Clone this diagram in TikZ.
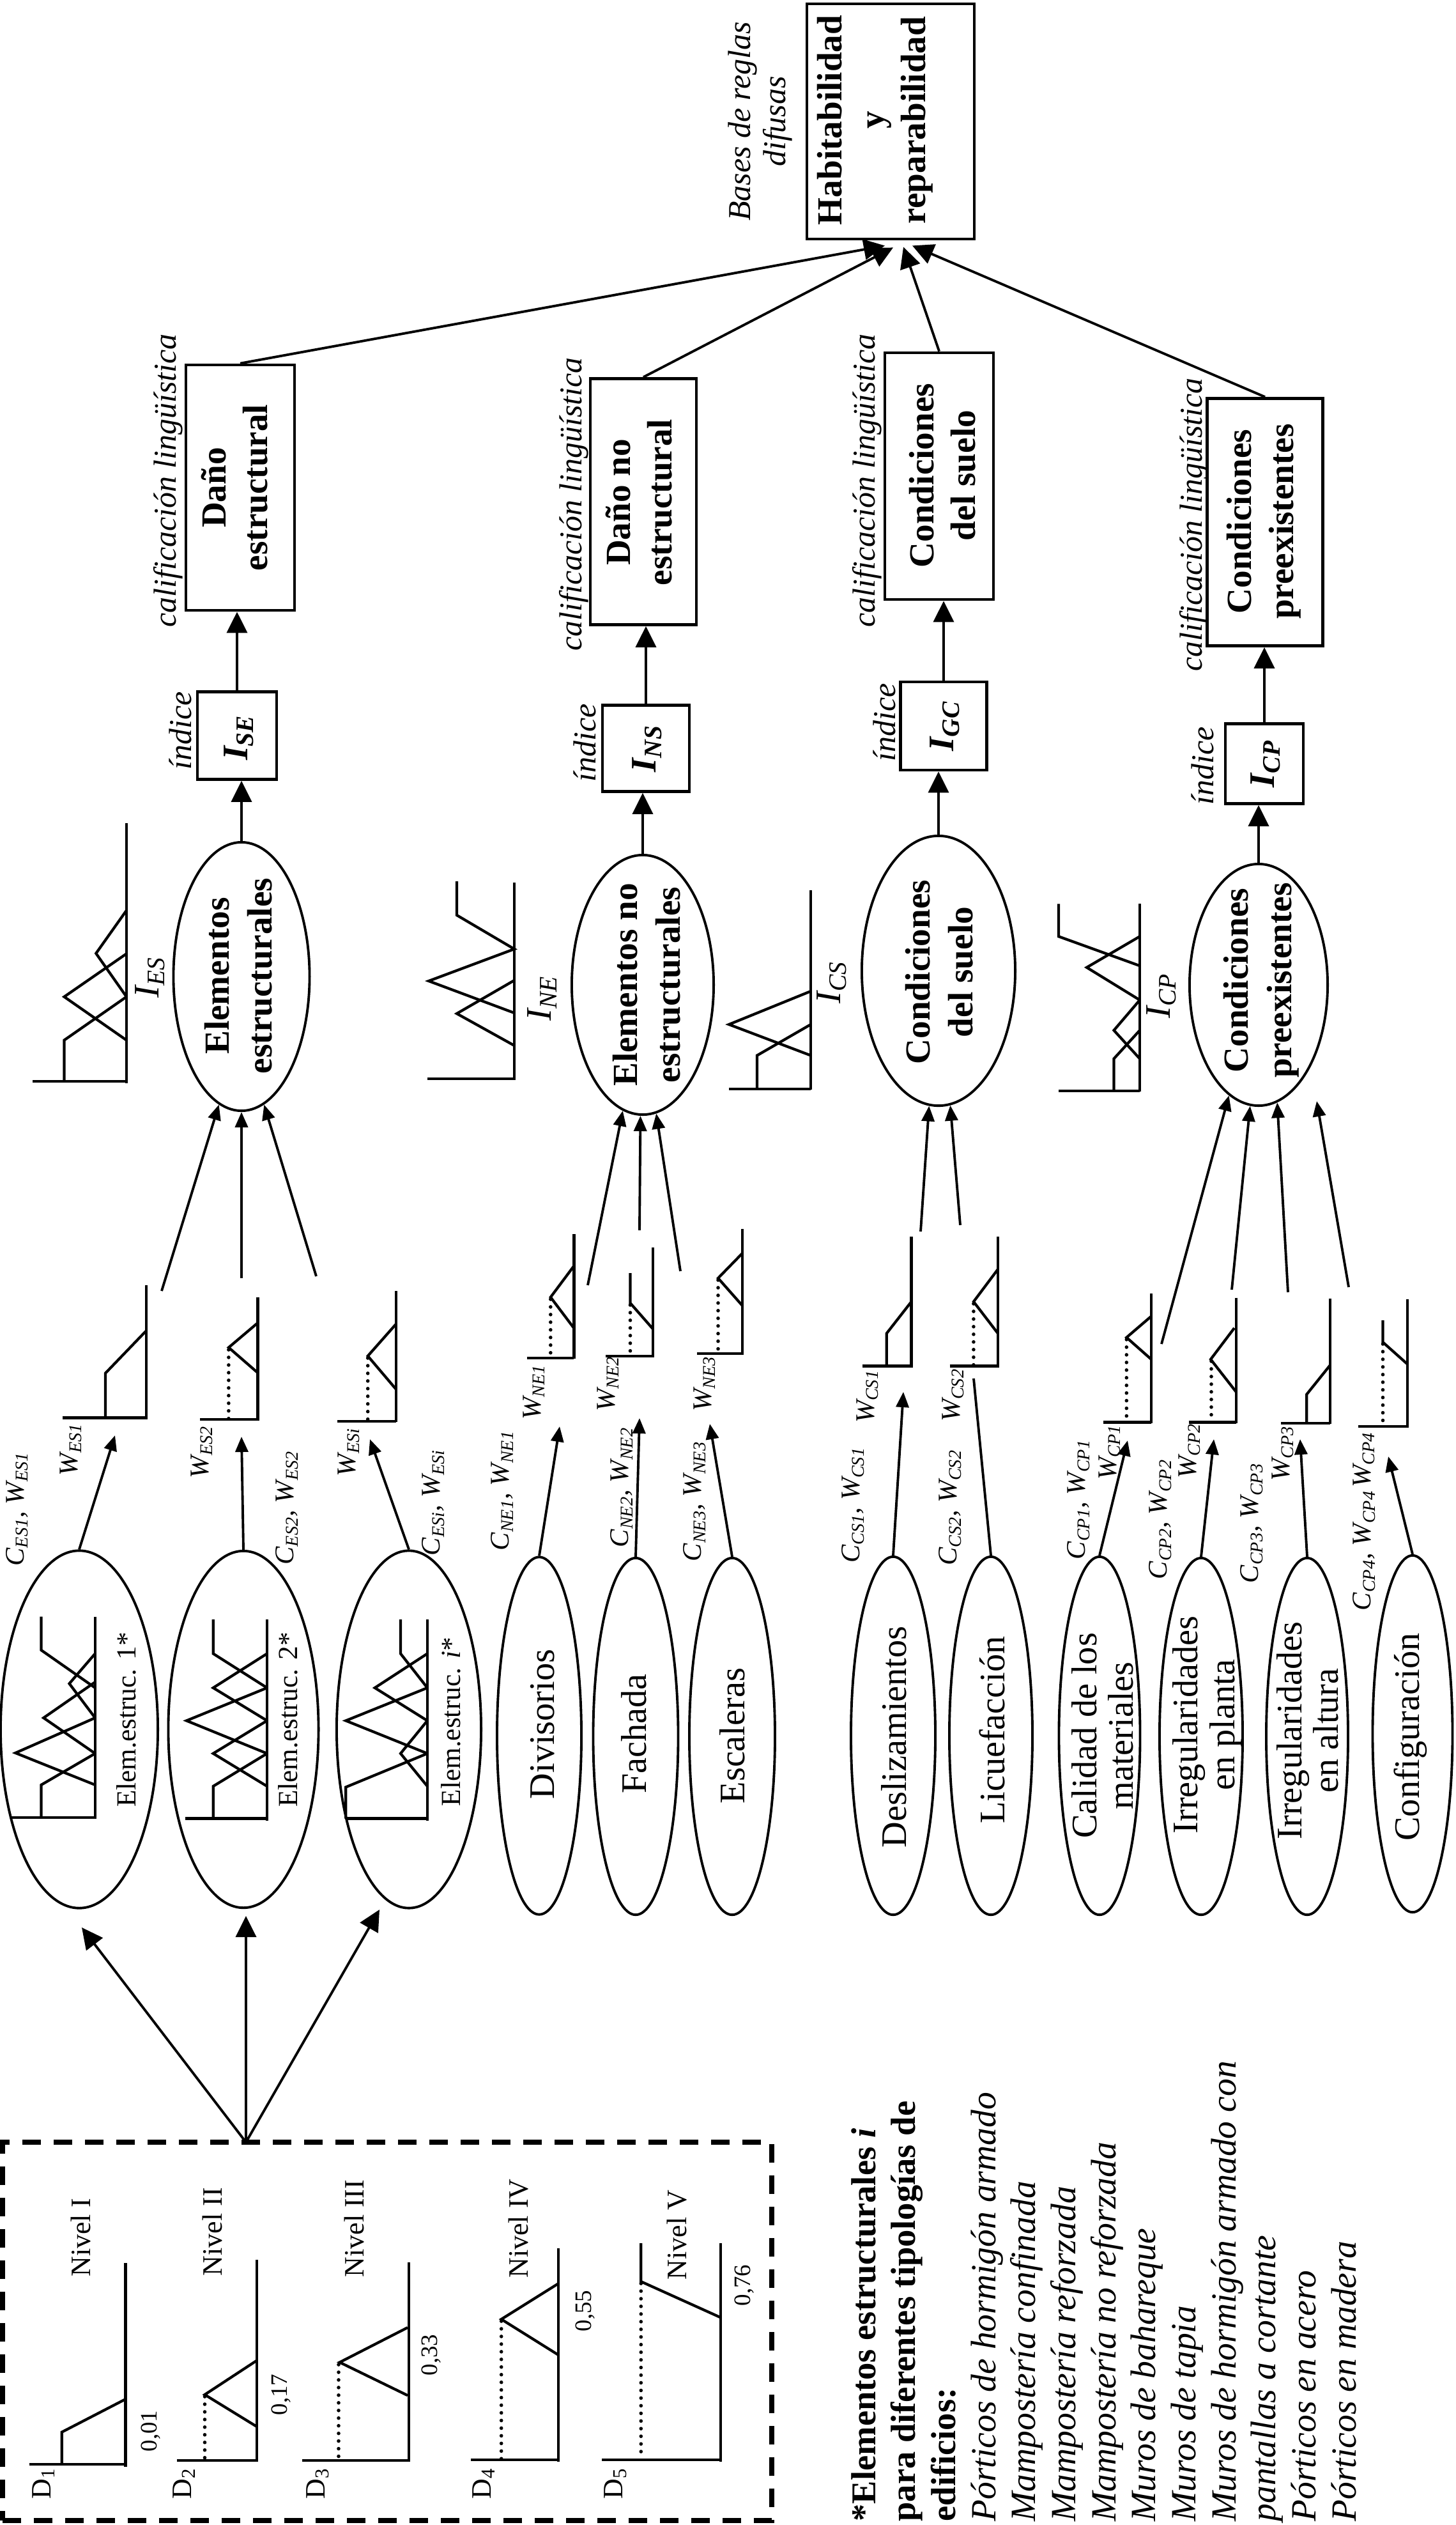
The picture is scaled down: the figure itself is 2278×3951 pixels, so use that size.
\documentclass[tikz,border=0pt]{standalone}
\usepackage{fontspec}
\setmainfont{Liberation Serif}
\usetikzlibrary{arrows.meta,shapes.geometric,calc}
\newcommand\myBold{\fontsize{15.7}{18.6}\selectfont\bfseries}
\newcommand\myEll{\fontsize{15.7}{19.2}\selectfont\bfseries}
\newcommand\myItal{\fontsize{14.2}{15.5}\selectfont\itshape}
\newcommand\myIdx{\fontsize{16}{18}\selectfont\bfseries\itshape}
\newcommand\myPl{\fontsize{16}{18}\selectfont\itshape}
\newcommand\myReg{\fontsize{16}{16.3}\selectfont}
\newcommand\mySm{\fontsize{12.3}{14}\selectfont}
\newcommand\myLab{\fontsize{12}{14}\selectfont\itshape}
\newcommand\myNum{\fontsize{10.5}{12}\selectfont}
\newcommand\myNiv{\fontsize{12.5}{14}\selectfont}
\newcommand\myNoteB{\fontsize{15.5}{18}\selectfont\bfseries}
\newcommand\myNoteI{\fontsize{15.8}{18}\selectfont\itshape}
\newcommand\CW[1]{C\textsubscript{#1}, W\textsubscript{#1}}
\newcommand\Ws[1]{W\textsubscript{#1}}
\tikzset{
  bx/.style={draw, rectangle, line width=1.3pt, inner sep=0pt},
  ell/.style={draw, ellipse, line width=1.1pt, inner sep=0pt},
  rt/.style={rotate=90, inner sep=0pt, align=center},
  lab/.style={rt, font=\myLab},
  bigarr/.style={line width=1.1pt, -{Triangle[length=0.33cm, width=0.32cm]}},
  smarr/.style={line width=1.1pt, -{Triangle[length=0.24cm, width=0.2cm]}},
  ln/.style={line width=1.1pt},
  pl/.style={line width=1.2pt},
  dotl/.style={line width=1.6pt, dash pattern=on 0pt off 3.4pt, line cap=round},
  dbox/.style={draw, rectangle, line width=2.2pt, dash pattern=on 0.29cm off 0.2cm, inner sep=0pt},
}
\begin{document}
\begin{tikzpicture}[x=0.01cm, y=-0.01cm]
\useasboundingbox (0,0) rectangle (2278,3951);

% ---------- top box ----------
\node[bx, minimum width=2.62cm, minimum height=3.68cm] (top) at (1394,190) {};
\node[rt, font=\myBold] (topt) at (1370,188) {Habitabilidad\\y\\reparabilidad};
\node[rt, font=\myItal] (bases) at (1190,190) {Bases de reglas\\difusas};

% ---------- category boxes ----------
\node[bx, minimum width=1.70cm, minimum height=3.84cm] (b1) at (376,763) {};
\node[bx, minimum width=1.66cm, minimum height=3.85cm] (b2) at (1007,785) {};
\node[bx, minimum width=1.70cm, minimum height=3.86cm] (b3) at (1470,745) {};
\node[bx, minimum width=1.81cm, minimum height=3.87cm] (b4) at (1980,817) {};
\node[rt, font=\myBold] (b1t) at (367,763) {Daño\\estructural};
\node[rt, font=\myBold] (b2t) at (1000,786) {Daño no\\estructural};
\node[rt, font=\myBold] (b3t) at (1475,744) {Condiciones\\del suelo};
\node[rt, font=\myBold] (b4t) at (1978,816) {Condiciones\\preexistentes};

\node[rt, font=\myItal] (c1) at (263,752) {calificación lingüística};
\node[rt, font=\myItal] (c2) at (898,789) {calificación lingüística};
\node[rt, font=\myItal] (c3) at (1357,752) {calificación lingüística};
\node[rt, font=\myItal] (c4) at (1869,821) {calificación lingüística};

\draw[bigarr] (b1.north) -- ($(top.south)+(-9,8)$);
\draw[bigarr] (b2.north) -- ($(top.south)+(4,11)$);
\draw[bigarr] (b3.north) -- ($(top.south)+(20,10)$);
\draw[bigarr] (b4.north) -- ($(top.south)+(34,8)$);

% ---------- index boxes ----------
\node[bx, minimum width=1.24cm, minimum height=1.37cm] (i1) at (371,1151) {};
\node[bx, minimum width=1.36cm, minimum height=1.35cm] (i2) at (1011,1171) {};
\node[bx, minimum width=1.35cm, minimum height=1.38cm] (i3) at (1477,1136) {};
\node[bx, minimum width=1.22cm, minimum height=1.25cm] (i4) at (1979,1195) {};
\node[rt, font=\myIdx] (i1t) at (374,1154) {I\textsubscript{SE}};
\node[rt, font=\myIdx] (i2t) at (1013,1171) {I\textsubscript{NS}};
\node[rt, font=\myIdx] (i3t) at (1479,1136) {I\textsubscript{GC}};
\node[rt, font=\myIdx] (i4t) at (1981,1195) {I\textsubscript{CP}};
\node[rt, font=\myItal] (x1) at (282,1143) {índice};
\node[rt, font=\myItal] (x2) at (915,1162) {índice};
\node[rt, font=\myItal] (x3) at (1384,1130) {índice};
\node[rt, font=\myItal] (x4) at (1882,1198) {índice};

\draw[bigarr] (i1.north) -- (i1.north |- b1.south);
\draw[bigarr] (i2.north) -- (i2.north |- b2.south);
\draw[bigarr] (i3.north) -- (i3.north |- b3.south);
\draw[bigarr] (i4.north) -- (i4.north |- b4.south);

% ---------- middle ellipses ----------
\node[ell, minimum width=2.13cm, minimum height=4.20cm] (m1) at (378,1528) {};
\node[ell, minimum width=2.22cm, minimum height=4.06cm] (m2) at (1006,1541) {};
\node[ell, minimum width=2.40cm, minimum height=4.22cm] (m3) at (1469,1519) {};
\node[ell, minimum width=2.16cm, minimum height=3.78cm] (m4) at (1970,1541) {};
\node[rt, font=\myEll] (m1t) at (373,1527) {Elementos\\estructurales};
\node[rt, font=\myEll] (m2t) at (1012,1541) {Elementos no\\estructurales};
\node[rt, font=\myEll] (m3t) at (1470,1521) {Condiciones\\del suelo};
\node[rt, font=\myEll] (m4t) at (1974,1534) {Condiciones\\preexistentes};

\draw[bigarr] (m1.north) -- (m1.north |- i1.south);
\draw[bigarr] (m2.north) -- (m2.north |- i2.south);
\draw[bigarr] (m3.north) -- (m3.north |- i3.south);
\draw[bigarr] (m4.north) -- (m4.north |- i4.south);

% plot labels
\node[rt, font=\myPl] (p1) at (235,1529) {I\textsubscript{ES}};
\node[rt, font=\myPl] (p2) at (849,1562) {I\textsubscript{NE}};
\node[rt, font=\myPl] (p3) at (1302,1537) {I\textsubscript{CS}};
\node[rt, font=\myPl] (p4) at (1818,1558) {I\textsubscript{CP}};

% plot I_ES
\draw[pl] (198,1288) -- (198,1695);
\draw[pl] (51,1692) -- (198,1692);
\draw[pl] (100.5,1692) -- (100.5,1627.6) -- (198,1559.7);
\draw[pl] (198,1627.6) -- (100.5,1559.7) -- (198,1492.3);
\draw[pl] (198,1559.7) -- (150.3,1491.8) -- (198,1424.5);
% plot I_NE
\draw[pl] (805,1381) -- (805,1690);
\draw[pl] (669,1688) -- (805,1688);
\draw[pl] (715,1379) -- (715,1432) -- (805,1485) -- (671,1535) -- (805,1585);
\draw[pl] (805,1534) -- (715,1586) -- (805,1636);
% plot I_CS
\draw[pl] (1269,1393) -- (1269,1705);
\draw[pl] (1141,1704) -- (1269,1704);
\draw[pl] (1185,1704) -- (1185,1651.5) -- (1269,1603);
\draw[pl] (1269,1651.5) -- (1141,1603) -- (1269,1551);
% plot I_CP
\draw[pl] (1784,1414) -- (1784,1708);
\draw[pl] (1657,1706.6) -- (1784,1706.6);
\draw[pl] (1743.5,1706.6) -- (1743.5,1656.6) -- (1784,1612.2);
\draw[pl] (1784,1656.6) -- (1743.5,1612.2) -- (1784,1564.8);
\draw[pl] (1784,1564.8) -- (1701,1513.8) -- (1784,1465.3);
\draw[pl] (1784,1511.2) -- (1657,1465.3) -- (1657,1414.3);

% arrows into middle ellipses
\coordinate (ses1) at (253,2020);
\coordinate (ses2) at (378,2000);
\coordinate (ses3) at (495,1997);
\coordinate (sne1) at (920,2011);
\coordinate (sne2) at (1001,1925);
\coordinate (sne3) at (1065,1989);
\coordinate (scs1) at (1441,1927);
\coordinate (scs2) at (1503,1917);
\coordinate (scp1) at (1818,2103);
\coordinate (scp2) at (1928,2018);
\coordinate (scp3) at (2016,2022);
\coordinate (scp4) at (2111,2014);
\coordinate (tcp4) at (2061,1723);
\draw[smarr] (ses1) -- (m1.-100.3);
\draw[smarr] (ses2) -- (m1.south);
\draw[smarr] (ses3) -- (m1.-80.8);
\draw[smarr] (sne1) -- (m2.-99.6);
\draw[smarr] (sne2) -- (m2.-91.4);
\draw[smarr] (sne3) -- (m2.-84.1);
\draw[smarr] (scs1) -- (m3.-94.6);
\draw[smarr] (scs2) -- (m3.-85.7);
\draw[smarr] (scp1) -- (m4.-105.6);
\draw[smarr] (scp2) -- (m4.-94.5);
\draw[smarr] (scp3) -- (m4.-81.6);
\draw[smarr] (scp4) -- (tcp4);

% ---------- W plots ----------
% ES1
\draw[pl] (228.8,2011) -- (228.8,2221);
\draw[pl] (97.5,2218.4) -- (228.8,2218.4);
\draw[pl] (165,2218.4) -- (165,2148.7) -- (228.8,2082.4);
% ES2
\draw[pl] (403.4,2030) -- (403.4,2223);
\draw[pl] (313,2221) -- (403.4,2221);
\draw[pl] (403.4,2070) -- (357.9,2108.5) -- (403.4,2148);
\draw[dotl] (357.9,2112) -- (357.9,2221);
% ESi
\draw[pl] (619.7,2020) -- (619.7,2225.4);
\draw[pl] (528,2224) -- (619.7,2224);
\draw[pl] (619.7,2072) -- (575.7,2121.8) -- (619.7,2173.6);
\draw[dotl] (575.7,2125) -- (575.7,2224);
% NE1
\draw[pl] (898.4,1931) -- (898.4,2126);
\draw[pl] (825,2125) -- (898.4,2125);
\draw[pl] (898.4,1980.8) -- (861.8,2029.8) -- (898.4,2078.3);
\draw[dotl] (861.8,2033) -- (861.8,2125);
% NE2
\draw[pl] (1021.6,1952) -- (1021.6,2124);
\draw[pl] (948.3,2122) -- (1021.6,2122);
\draw[pl] (986.5,1992) -- (986.5,2039) -- (1021.6,2079);
\draw[dotl] (986.5,2042) -- (986.5,2122);
% NE3
\draw[pl] (1162,1923) -- (1162,2120);
\draw[pl] (1091,2118) -- (1162,2118);
\draw[pl] (1162,1961) -- (1124,2000) -- (1162,2043);
\draw[dotl] (1124,2003) -- (1124,2118);
% CS1
\draw[pl] (1426.5,1935) -- (1426.5,2139.6);
\draw[pl] (1349.6,2137.5) -- (1426.5,2137.5);
\draw[pl] (1387.7,2137.5) -- (1387.7,2086.5) -- (1426.5,2036.8);
% CS2
\draw[pl] (1562,1935) -- (1562,2139.6);
\draw[pl] (1486.5,2137.5) -- (1562,2137.5);
\draw[pl] (1562,1986) -- (1523.9,2036.8) -- (1562,2086.5);
\draw[dotl] (1523.9,2040) -- (1523.9,2137.5);
% CP1
\draw[pl] (1802,2024) -- (1802,2227);
\draw[pl] (1726.7,2225.4) -- (1802,2225.4);
\draw[pl] (1802,2059.6) -- (1763.3,2092.8) -- (1802,2127);
\draw[dotl] (1763.3,2096) -- (1763.3,2225);
% CP2
\draw[pl] (1935.3,2030.6) -- (1935.3,2227);
\draw[pl] (1860.6,2225.4) -- (1935.3,2225.4);
\draw[pl] (1932,2078) -- (1895,2127) -- (1935.3,2178.6);
\draw[dotl] (1896,2130) -- (1896,2225);
% CP3
\draw[pl] (2081.8,2031.8) -- (2081.8,2228.3);
\draw[pl] (2004.9,2226.7) -- (2081.8,2226.7);
\draw[pl] (2045.2,2226.7) -- (2045.2,2181.9) -- (2081.8,2136.3);
% CP4
\draw[pl] (2202.6,2032.7) -- (2202.6,2233.7);
\draw[pl] (2125.7,2231.6) -- (2202.6,2231.6);
\draw[pl] (2164.5,2065.8) -- (2164.5,2100.2) -- (2202.6,2134.2);
\draw[dotl] (2164.5,2103) -- (2164.5,2231);

% ---------- labels C, W ----------
\node[lab] (l1) at (27,2361) {\CW{ES1}};
\node[lab] (l2) at (111,2268) {\Ws{ES1}};
\node[lab] (l3) at (316,2272) {\Ws{ES2}};
\node[lab] (l4) at (449,2359) {\CW{ES2}};
\node[lab] (l5) at (546,2272) {\Ws{ESi}};
\node[lab] (l6) at (678,2351) {\CW{ESi}};
\node[lab] (l7) at (786,2332) {\CW{NE1}};
\node[lab] (l8) at (836,2178) {\Ws{NE1}};
\node[lab] (l9) at (973,2327) {\CW{NE2}};
\node[lab] (l10) at (952,2165) {\Ws{NE2}};
\node[lab] (l11) at (1087,2349) {\CW{NE3}};
\node[lab] (l12) at (1103,2165) {\Ws{NE3}};
\node[lab] (l13) at (1335,2355) {\CW{CS1}};
\node[lab] (l14) at (1358,2185) {\Ws{CS1}};
\node[lab] (l15) at (1487,2359) {\CW{CS2}};
\node[lab] (l16) at (1492,2183) {\Ws{CS2}};
\node[lab] (l17) at (1688,2346) {\CW{CP1}};
\node[lab] (l18) at (1737,2272) {\Ws{CP1}};
\node[lab] (l19) at (1816,2377) {\CW{CP2}};
\node[lab] (l20) at (1862,2270) {\Ws{CP2}};
\node[lab] (l21) at (1959,2383) {\CW{CP3}};
\node[lab] (l22) at (2008,2274) {\Ws{CP3}};
\node[lab] (l23) at (2135,2426) {\CW{CP4}};
\node[lab] (l24) at (2135,2284) {\Ws{CP4}};

% ---------- bottom ellipses ----------
\node[ell, minimum width=2.46cm, minimum height=5.59cm] (e1) at (124,2706) {};
\node[ell, minimum width=2.35cm, minimum height=5.58cm] (e2) at (381,2706) {};
\node[ell, minimum width=2.26cm, minimum height=5.59cm] (ei) at (640,2706) {};
\node[ell, minimum width=1.32cm, minimum height=5.59cm] (div) at (844,2716) {};
\node[ell, minimum width=1.33cm, minimum height=5.58cm] (fac) at (995,2717) {};
\node[ell, minimum width=1.34cm, minimum height=5.58cm] (esc) at (1146,2717) {};
\node[ell, minimum width=1.32cm, minimum height=5.60cm] (des) at (1398,2716) {};
\node[ell, minimum width=1.30cm, minimum height=5.60cm] (lic) at (1551,2716) {};
\node[ell, minimum width=1.27cm, minimum height=5.60cm] (cal) at (1721,2716) {};
\node[ell, minimum width=1.30cm, minimum height=5.58cm] (irp) at (1880,2717) {};
\node[ell, minimum width=1.28cm, minimum height=5.58cm] (ira) at (2046,2717) {};
\node[ell, minimum width=1.25cm, minimum height=5.58cm] (con) at (2211,2713) {};

\node[rt, font=\mySm] (e1t) at (198,2691) {Elem.estruc. 1*};
\node[rt, font=\mySm] (e2t) at (451,2691) {Elem.estruc. 2*};
\node[rt, font=\mySm] (eit) at (706,2694) {Elem.estruc. \textit{i}*};
\node[rt, font=\myReg] (divt) at (849,2698) {Divisorios};
\node[rt, font=\myReg] (fact) at (992,2713) {Fachada};
\node[rt, font=\myReg] (esct) at (1146,2716) {Escaleras};
\node[rt, font=\myReg] (dest) at (1399,2718) {Deslizamientos};
\node[rt, font=\myReg] (lict) at (1553,2707) {Licuefacción};
\node[rt, font=\myReg] (calt) at (1726,2716) {Calidad de los\\materiales};
\node[rt, font=\myReg] (irpt) at (1890,2699) {Irregularidades\\en planta};
\node[rt, font=\myReg] (irat) at (2047,2708) {Irregularidades\\en altura};
\node[rt, font=\myReg] (cont) at (2208,2718) {Configuración};

% inner plots
% E1
\draw[pl] (148.9,2529.5) -- (148.9,2846.4);
\draw[pl] (18.3,2844.2) -- (148.9,2844.2);
\draw[pl] (64.5,2844.2) -- (64.5,2792.9) -- (148.9,2743.75);
\draw[pl] (148.9,2792.9) -- (24.2,2742.9) -- (148.9,2688);
\draw[pl] (148.9,2743.75) -- (68.2,2688) -- (148.9,2632);
\draw[pl] (148.9,2688) -- (108.5,2634.4) -- (148.9,2587.5);
\draw[pl] (148.9,2641) -- (64.5,2582) -- (64.5,2529.5);
% E2
\draw[pl] (418,2534) -- (418,2848.7);
\draw[pl] (289.7,2845.5) -- (418,2845.5);
\draw[pl] (333.7,2845.5) -- (333.7,2795) -- (418,2743.75);
\draw[pl] (418,2795) -- (333.7,2743.75) -- (418,2692.4);
\draw[pl] (418,2743.75) -- (291.9,2692.4) -- (418,2641);
\draw[pl] (418,2692.4) -- (333.7,2641) -- (418,2587.5);
\draw[pl] (418,2641) -- (333.7,2587.5) -- (333.7,2534);
% Ei
\draw[pl] (668.9,2534) -- (668.9,2848.7);
\draw[pl] (541.3,2845.5) -- (668.9,2845.5);
\draw[pl] (541.3,2845.5) -- (541.3,2796.4) -- (668.9,2743.75);
\draw[pl] (668.9,2795) -- (627,2743.75) -- (668.9,2692.4);
\draw[pl] (668.9,2743.75) -- (541.3,2692.4) -- (668.9,2641);
\draw[pl] (668.9,2692.4) -- (586.7,2641) -- (668.9,2587.5);
\draw[pl] (668.9,2641) -- (627,2587.5) -- (627,2534);

% arrows from bottom ellipses
\coordinate (tes1) at (180,2246);
\coordinate (tes2) at (378,2248);
\coordinate (tesi) at (579,2252);
\coordinate (tne1) at (876,2232);
\coordinate (tne2) at (1001,2219);
\coordinate (tne3) at (1111,2228);
\coordinate (tcs1) at (1414,2178);
\coordinate (tcs2) at (1524,2157);
\coordinate (tcp1) at (1765,2254);
\coordinate (tcp2) at (1900,2252);
\coordinate (tcp3) at (2035,2252);
\coordinate (tcp4b) at (2173,2279);
\draw[smarr] (e1.north) -- (tes1);
\draw[smarr] (e2.north) -- (tes2);
\draw[smarr] (ei.north) -- (tesi);
\draw[smarr] (div.north) -- (tne1);
\draw[smarr] (fac.north) -- (tne2);
\draw[smarr] (esc.north) -- (tne3);
\draw[smarr] (des.north) -- (tcs1);
\draw[ln] (lic.north) -- (tcs2);
\draw[smarr] (cal.north) -- (tcp1);
\draw[smarr] (irp.north) -- (tcp2);
\draw[smarr] (ira.north) -- (tcp3);
\draw[smarr] (con.north) -- (tcp4b);

% ---------- dashed box ----------
\node[dbox, minimum width=12.04cm, minimum height=5.92cm] (dbx) at (606,3648) {};
\coordinate (src) at (385,3352);
\coordinate (d1) at (128,3016);
\coordinate (d2) at (385,2998);
\coordinate (d3) at (594,2988);
\draw[bigarr] (src) -- (d1);
\draw[bigarr] (src) -- (d2);
\draw[bigarr] (src) -- (d3);

% level plots
\draw[pl] (196.6,3541) -- (196.6,3860);
\draw[pl] (45.5,3855.6) -- (196.6,3855.6);
\draw[pl] (96.8,3855.6) -- (96.8,3805.6) -- (196.6,3754);

\draw[pl] (401.9,3535.5) -- (401.9,3851.6);
\draw[pl] (277.2,3850) -- (401.9,3850);
\draw[pl] (401.9,3693.6) -- (320.5,3747) -- (401.9,3797);
\draw[dotl] (320.5,3750) -- (320.5,3850);

\draw[pl] (640.3,3539.6) -- (640.3,3851.6);
\draw[pl] (473,3850) -- (640.3,3850);
\draw[pl] (638,3642) -- (531.7,3696.4) -- (638,3748.2);
\draw[dotl] (530,3700) -- (530,3845);

\draw[pl] (874.2,3518) -- (874.2,3851.6);
\draw[pl] (737,3848.7) -- (874.2,3848.7);
\draw[pl] (874.2,3573) -- (784.7,3629) -- (874.2,3685);
\draw[dotl] (784.7,3632) -- (784.7,3848);

\draw[pl] (1128,3510) -- (1128,3851.6);
\draw[pl] (942.4,3848.7) -- (1128,3848.7);
\draw[pl] (1003.3,3510) -- (1003.3,3570) -- (1128,3626.3);
\draw[dotl] (1003.3,3573) -- (1003.3,3846);

\node[rt, font=\myNiv] (nv1) at (126.5,3501) {Nivel I};
\node[rt, font=\myNiv] (nv2) at (332,3492) {Nivel II};
\node[rt, font=\myNiv] (nv3) at (554,3487) {Nivel III};
\node[rt, font=\myNiv] (nv4) at (811.5,3487) {Nivel IV};
\node[rt, font=\myNiv] (nv5) at (1060,3497) {Nivel V};
\node[rt, font=\myNum] (v1) at (236.5,3804) {0,01};
\node[rt, font=\myNum] (v2) at (440,3747) {0,17};
\node[rt, font=\myNum] (v3) at (675,3685) {0,33};
\node[rt, font=\myNum] (v4) at (916,3616) {0,55};
\node[rt, font=\myNum] (v5) at (1165,3576) {0,76};
\node[rt, font=\myNiv] (dd1) at (68,3886) {D\textsubscript{1}};
\node[rt, font=\myNiv] (dd2) at (288,3886) {D\textsubscript{2}};
\node[rt, font=\myNiv] (dd3) at (497,3886) {D\textsubscript{3}};
\node[rt, font=\myNiv] (dd4) at (757,3886) {D\textsubscript{4}};
\node[rt, font=\myNiv] (dd5) at (963,3886) {D\textsubscript{5}};

% ---------- note ----------
\node[rt, anchor=base west, font=\myNoteB] (n1) at (1370,3946) {*Elementos estructurales \textit{i}};
\node[rt, anchor=base west, font=\myNoteB] (n2) at (1432.7,3946) {para diferentes tipologías de};
\node[rt, anchor=base west, font=\myNoteB] (n3) at (1495.3,3946) {edificios:};
\node[rt, anchor=base west, font=\myNoteI] (n4) at (1558,3946) {Pórticos de hormigón armado};
\node[rt, anchor=base west, font=\myNoteI] (n5) at (1620.7,3946) {Mampostería confinada};
\node[rt, anchor=base west, font=\myNoteI] (n6) at (1683.3,3946) {Mampostería reforzada};
\node[rt, anchor=base west, font=\myNoteI] (n7) at (1746,3946) {Mampostería no reforzada};
\node[rt, anchor=base west, font=\myNoteI] (n8) at (1808.7,3946) {Muros de bahareque};
\node[rt, anchor=base west, font=\myNoteI] (n9) at (1871.3,3946) {Muros de tapia};
\node[rt, anchor=base west, font=\myNoteI] (n10) at (1934,3946) {Muros de hormigón armado con};
\node[rt, anchor=base west, font=\myNoteI] (n11) at (1996.7,3946) {pantallas a cortante};
\node[rt, anchor=base west, font=\myNoteI] (n12) at (2059.3,3946) {Pórticos en acero};
\node[rt, anchor=base west, font=\myNoteI] (n13) at (2122,3946) {Pórticos en madera};

\end{tikzpicture}
\end{document}
